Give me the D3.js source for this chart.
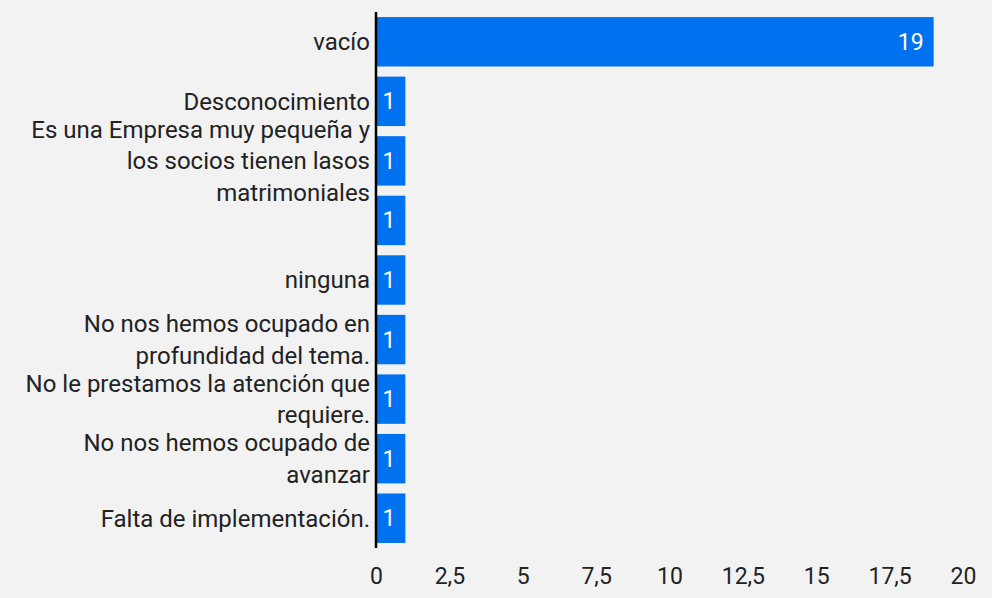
<!DOCTYPE html>
<html>
<head>
<meta charset="utf-8">
<script src="https://cdn.jsdelivr.net/npm/d3@7"></script>
<style>
  body { margin: 0; background: #f2f2f2; }
  text { font-family: Roboto, sans-serif; }
</style>
</head>
<body>
<div id="chart"></div>
<script>
// data
var categories = [
  "vacío",
  "Desconocimiento",
  "Es una Empresa muy pequeña y los socios tienen lasos matrimoniales",
  "",
  "ninguna",
  "No nos hemos ocupado en profundidad del tema.",
  "No le prestamos la atención que requiere.",
  "No nos hemos ocupado de avanzar",
  "Falta de implementación."
];
var counts = [19, 1, 1, 1, 1, 1, 1, 1, 1];
var xTicks = [0, 2.5, 5, 7.5, 10, 12.5, 15, 17.5, 20];

var data = categories.map(function(c, i) { return {key: i, label: c, value: counts[i]}; });

var margin = {top: 12, right: 29, bottom: 50, left: 376},
    width = 992 - margin.left - margin.right,
    height = 598 - margin.top - margin.bottom;

var svg = d3.select("#chart")
  .append("svg")
    .attr("width", 992)
    .attr("height", 598)
  .append("g")
    .attr("transform", "translate(" + margin.left + "," + margin.top + ")");

var x = d3.scaleLinear()
  .domain([0, 20])
  .range([0, width]);

var y = d3.scaleBand()
  .domain(data.map(function(d) { return d.key; }))
  .range([0, height])
  .paddingInner(0.17)
  .paddingOuter(0.085);

// bars
svg.selectAll("rect.bar")
  .data(data)
  .enter()
  .append("rect")
    .attr("class", "bar")
    .attr("x", 0)
    .attr("y", function(d) { return y(d.key); })
    .attr("width", function(d) { return x(d.value); })
    .attr("height", y.bandwidth())
    .attr("fill", "#0071ef");

// value labels
svg.selectAll("text.val")
  .data(data)
  .enter()
  .append("text")
    .attr("class", "val")
    .attr("x", function(d) { return x(d.value) - 10; })
    .attr("y", function(d) { return y(d.key) + y.bandwidth() / 2; })
    .attr("dy", "0.35em")
    .attr("text-anchor", "end")
    .attr("fill", "#ffffff")
    .style("font-size", "23px")
    .text(function(d) { return d.value; });

// x axis
var xAxis = svg.append("g")
  .attr("transform", "translate(0," + height + ")")
  .call(d3.axisBottom(x).tickValues(xTicks).tickSize(0).tickPadding(20)
    .tickFormat(function(d) { return String(d).replace(".", ","); }));
xAxis.select(".domain").remove();
xAxis.selectAll("text")
  .style("font-family", "Roboto, sans-serif")
  .style("font-size", "23px")
  .attr("fill", "#222");

// y axis line
svg.append("line")
  .attr("x1", 0).attr("x2", 0)
  .attr("y1", 0).attr("y2", height)
  .attr("stroke", "#000")
  .attr("stroke-width", 2.5);

// category labels, wrapped
var lineH = 31.5;
svg.selectAll("text.cat")
  .data(data)
  .enter()
  .append("text")
    .attr("class", "cat")
    .attr("x", -6)
    .attr("text-anchor", "end")
    .attr("fill", "#222")
    .style("font-size", "24px")
    .each(function(d) {
      var t = d3.select(this);
      var words = d.label.split(" ").filter(function(w) { return w.length; });
      var lines = [], cur = [];
      var probe = t.append("tspan");
      words.forEach(function(w) {
        cur.push(w);
        probe.text(cur.join(" "));
        if (probe.node().getComputedTextLength() > 354 && cur.length > 1) {
          cur.pop();
          lines.push(cur.join(" "));
          cur = [w];
        }
      });
      if (cur.length) lines.push(cur.join(" "));
      probe.remove();
      var cy = y(d.key) + y.bandwidth() / 2;
      var y0 = cy - (lines.length - 1) * lineH / 2;
      lines.forEach(function(l, i) {
        t.append("tspan")
          .attr("x", -6)
          .attr("y", y0 + i * lineH)
          .attr("dy", "0.35em")
          .text(l);
      });
    });
</script>
</body>
</html>
